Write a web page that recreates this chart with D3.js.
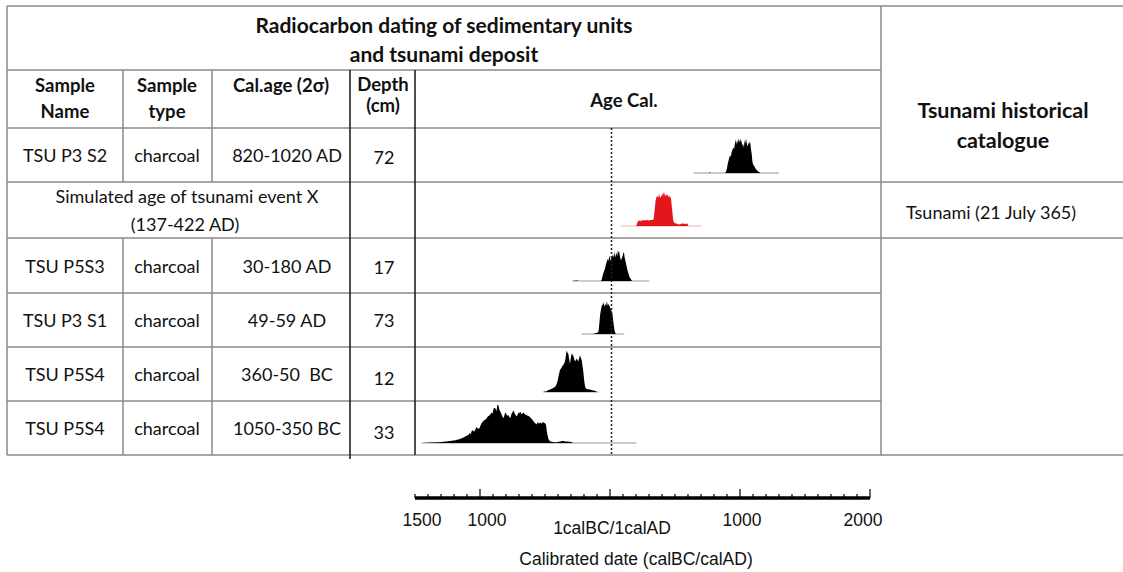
<!DOCTYPE html>
<html><head><meta charset="utf-8">
<script src="https://cdn.jsdelivr.net/npm/d3@7"></script>
<style>
body{margin:0;background:#fff;}
svg text{font-family:Lato,"Open Sans",sans-serif;fill:#111;white-space:pre;}
svg text.ax{font-family:"Liberation Sans",Arial,sans-serif;}
</style>
</head><body><svg id="c" width="1123" height="572"></svg>
<script>
// ---------- data ----------
const titleLines = ["Radiocarbon dating of sedimentary units", "and tsunami deposit"];
const headerLabels = [["Sample","Name"],["Sample","type"],["Cal.age (2\u03c3)"],["Depth","(cm)"],["Age Cal."]];
const catalogueTitle = ["Tsunami historical", "catalogue"];
const sampleNames = ["TSU P3 S2", null, "TSU P5S3", "TSU P3 S1", "TSU P5S4", "TSU P5S4"];
const sampleTypes = ["charcoal", null, "charcoal", "charcoal", "charcoal", "charcoal"];
const calAges = ["820-1020 AD", null, "30-180 AD", "49-59 AD", "360-50  BC", "1050-350 BC"];
const depths = ["72", "", "17", "73", "12", "33"];
const simulatedLabel = ["Simulated age of tsunami event X", "(137-422 AD)"];
const catalogueEntry = "Tsunami (21 July 365)";
const axisTickValues = [-1500, -1000, 0, 1000, 2000];
const axisTickLabels = ["1500", "1000", "1calBC/1calAD", "1000", "2000"];
const axisTitle = "Calibrated date (calBC/calAD)";
const tsunamiYear = 0; // reference dotted line (1calBC/1calAD)

// probability distributions: [calendar year (negative = BC), relative density]
const distP3S2 = [[641,0],[760,0],[765,2],[775,0],[885,0],[892,3],[900,12],[905,22],[915,35],[923,45],[930,40],[935,52],[942,58],[949,64],[955,60],[960,72],[968,84],[972,70],[975,80],[980,74],[985,88],[990,78],[995,82],[1000,76],[1005,86],[1010,80],[1015,74],[1020,68],[1026,72],[1030,62],[1035,82],[1040,74],[1046,86],[1050,78],[1055,70],[1060,66],[1064,76],[1070,72],[1077,80],[1082,66],[1085,58],[1090,48],[1095,30],[1100,22],[1108,18],[1115,14],[1122,10],[1130,7],[1140,4],[1148,2],[1160,0],[1300,0]];
const distEventX = [[82,0],[200,0],[205,3],[212,10],[220,13],[230,14],[240,12],[250,15],[265,14],[280,15],[295,14],[310,15],[325,15],[335,17],[340,30],[345,45],[350,62],[357,72],[365,75],[372,70],[377,82],[382,74],[388,70],[395,78],[400,72],[405,83],[410,78],[415,86],[420,78],[425,74],[430,80],[435,76],[441,80],[446,74],[450,75],[455,70],[459,77],[465,72],[470,66],[475,50],[480,35],[485,18],[490,10],[500,7],[510,6],[520,5],[530,4],[545,5],[556,7],[565,5],[575,6],[585,5],[595,7],[600,2],[605,0],[705,0]];
const distP5S3 = [[-290,0],[-255,1],[-240,0],[-70,0],[-64,3],[-58,12],[-51,20],[-45,25],[-38,32],[-31,42],[-25,48],[-18,55],[-12,50],[-5,64],[0,56],[5,50],[9,58],[13,56],[18,62],[23,66],[28,58],[33,74],[38,62],[42,60],[47,70],[51,68],[56,62],[60,76],[65,70],[69,76],[74,66],[80,56],[85,52],[90,56],[95,60],[100,66],[104,72],[108,70],[112,60],[115,55],[120,48],[123,44],[128,36],[132,30],[137,24],[141,20],[146,14],[150,10],[156,7],[162,4],[170,0],[302,0]];
const distP3S1 = [[-218,0],[-130,0],[-120,1],[-113,2],[-100,3],[-90,5],[-86,12],[-82,26],[-76,48],[-69,62],[-64,70],[-60,74],[-55,72],[-51,80],[-46,74],[-42,68],[-38,72],[-33,76],[-29,70],[-25,82],[-20,76],[-16,70],[-13,76],[-8,72],[-3,70],[1,66],[6,62],[10,58],[14,56],[18,50],[21,45],[25,32],[30,20],[34,10],[38,5],[45,0],[110,0]];
const distP5S4a = [[-513,0],[-500,1],[-487,2],[-474,5],[-455,7],[-436,10],[-420,14],[-410,20],[-403,28],[-397,38],[-391,46],[-385,55],[-378,58],[-371,62],[-364,66],[-358,68],[-352,72],[-346,76],[-340,90],[-333,104],[-327,98],[-321,96],[-315,84],[-308,70],[-302,84],[-295,96],[-289,94],[-282,90],[-276,84],[-269,76],[-262,80],[-256,84],[-250,80],[-244,76],[-238,84],[-231,92],[-225,86],[-218,80],[-212,66],[-205,50],[-199,30],[-192,14],[-185,9],[-175,7],[-167,7],[-155,6],[-140,5],[-128,4],[-115,3],[-102,0],[-87,0]];
const distP5S4b = [[-1449,0],[-1380,1],[-1321,2],[-1280,3],[-1231,5],[-1190,7],[-1154,10],[-1120,15],[-1103,18],[-1090,20],[-1080,25],[-1072,22],[-1064,30],[-1055,32],[-1045,28],[-1036,34],[-1026,40],[-1018,36],[-1005,36],[-996,44],[-987,50],[-978,54],[-970,56],[-960,58],[-949,62],[-940,66],[-930,68],[-920,72],[-910,76],[-903,74],[-895,86],[-885,88],[-878,84],[-873,80],[-868,92],[-864,97],[-859,94],[-855,90],[-850,82],[-846,80],[-840,76],[-833,70],[-827,66],[-821,62],[-815,66],[-808,74],[-802,76],[-795,70],[-788,68],[-782,70],[-776,66],[-769,62],[-763,66],[-757,74],[-750,76],[-744,82],[-738,78],[-731,72],[-725,70],[-718,66],[-712,70],[-705,76],[-699,74],[-692,78],[-686,76],[-680,72],[-673,74],[-667,76],[-660,74],[-654,72],[-648,70],[-641,70],[-635,68],[-628,68],[-622,66],[-615,65],[-608,62],[-602,60],[-596,58],[-590,55],[-583,52],[-577,50],[-570,48],[-564,46],[-558,52],[-551,50],[-545,48],[-538,52],[-532,50],[-525,48],[-519,52],[-513,52],[-506,50],[-500,50],[-492,45],[-487,32],[-482,22],[-474,10],[-466,6],[-460,4],[-449,3],[-430,2],[-410,2],[-395,3],[-380,4],[-370,5],[-359,5],[-345,4],[-330,4],[-308,3],[-295,2],[-282,0],[203,0]];
const distributions = [distP3S2, distEventX, distP5S3, distP3S1, distP5S4a, distP5S4b];
const distColors = ["#000", "#e3161d", "#000", "#000", "#000", "#000"];

// ---------- layout ----------
const W = 1123, H = 572;
const rowY = [6, 70, 128, 182, 238, 293, 347, 401, 455]; // horizontal rule positions
const colX = [7, 123, 212, 350, 415, 881];
const dataRowBot = i => rowY[3 + i];
const baselineOffset = [9, 12, 12, 13, 9, 12];
const gridColor = "#8a8a8a";

const svg = d3.select("#c");
const x = d3.scaleLinear().domain([-1500, 2000]).range([415, 870]);
const yd = d3.scaleLinear().domain([0, 100]).range([0, 40]);

// ---------- grid ----------
const g = svg.append("g");
function hline(y, x1, x2, col, w) { g.append("line").attr("x1", x1).attr("x2", x2).attr("y1", y).attr("y2", y).attr("stroke", col || gridColor).attr("stroke-width", w || 1.5); }
function vline(xx, y1, y2, col, w) { g.append("line").attr("x1", xx).attr("x2", xx).attr("y1", y1).attr("y2", y2).attr("stroke", col || gridColor).attr("stroke-width", w || 1.5); }
[0, 3, 4, 8].forEach(k => hline(rowY[k], colX[0], W));
[1, 2, 5, 6, 7].forEach(k => hline(rowY[k], colX[0], colX[5]));
vline(colX[0], rowY[0], rowY[8]);
vline(colX[1], rowY[1], rowY[3]); vline(colX[1], rowY[4], rowY[8]);
vline(colX[2], rowY[1], rowY[3]); vline(colX[2], rowY[4], rowY[8]);
vline(colX[3], rowY[1], rowY[8] + 4, "#222", 1.6);
vline(colX[4], rowY[1], rowY[8], "#222", 1.6);
vline(colX[5], rowY[0], rowY[8]);

// ---------- texts ----------
function txt(s, xx, yy, opt = {}) {
  return svg.append("text").attr("x", xx).attr("y", yy).attr("text-anchor", opt.anchor || "middle")
    .attr("dominant-baseline", "central").style("font-size", (opt.size || 18) + "px")
    .style("font-weight", opt.bold ? "bold" : "normal").text(s);
}
txt(titleLines[0], 444, 24, {bold: true, size: 21});
txt(titleLines[1], 444, 53, {bold: true, size: 21});
const headerCx = [65, 167, 281, 383, 624];
const headerYs = [[85, 111], [85, 111], [85], [84, 105], [100]];
headerLabels.forEach((lines, i) => lines.forEach((s, j) => txt(s, headerCx[i], headerYs[i][j], {bold: true, size: 18.5})));
txt(catalogueTitle[0], 1003, 110, {bold: true, size: 21.5});
txt(catalogueTitle[1], 1003, 140, {bold: true, size: 21.5});

const rowTextY = [155, null, 266, 320, 374, 428];
const depthDy = [2, 0, 1, 0, 4, 4];
sampleNames.forEach((s, i) => {
  if (s === null) return;
  txt(s, 65, rowTextY[i]);
  txt(sampleTypes[i], 167, rowTextY[i]);
  txt(calAges[i], 287, rowTextY[i]);
  txt(depths[i], 384, rowTextY[i] + depthDy[i]);
});
txt(simulatedLabel[0], 187, 196);
txt(simulatedLabel[1], 185, 224);
txt(catalogueEntry, 906, 212, {anchor: "start"});

// ---------- distributions ----------
const area = d3.area().x(d => x(d[0])).y1(d => -yd(d[1])).y0(0).curve(d3.curveLinear);
distributions.forEach((dist, i) => {
  const base = dataRowBot(i) - baselineOffset[i];
  const gg = svg.append("g").attr("transform", `translate(0,${base})`);
  gg.append("line").attr("x1", x(dist[0][0])).attr("x2", x(dist[dist.length - 1][0]))
    .attr("y1", 0).attr("y2", 0).attr("stroke", i === 1 ? "#f0b0b0" : "#999").attr("stroke-width", 1);
  gg.append("path").datum(dist).attr("d", area).attr("fill", distColors[i]);
});

// dotted reference line
svg.append("line").attr("x1", x(tsunamiYear) + 1.5).attr("x2", x(tsunamiYear) + 1.5)
  .attr("y1", rowY[2]).attr("y2", rowY[8]).attr("stroke", "#222").attr("stroke-width", 1.5)
  .attr("stroke-dasharray", "2,2");

// ---------- axis ----------
const axisY = 498;
const ax = svg.append("g").attr("transform", `translate(0,${axisY})`);
ax.append("line").attr("x1", x(-1500)).attr("x2", x(2000)).attr("stroke", "#000").attr("stroke-width", 3.5);
const minor = d3.range(-1500, 2001, 100);
ax.selectAll("line.mn").data(minor).enter().append("line").attr("class", "mn")
  .attr("x1", d => x(d)).attr("x2", d => x(d)).attr("y1", 0)
  .attr("y2", d => (d % 1000 === 0 || d === 2000) ? -9 : -4)
  .attr("stroke", "#000").attr("stroke-width", 1.2);
const labelDx = [7, 7, 2, 2, -7];
const labelDy = [22, 22, 30, 22, 22];
axisTickValues.forEach((v, i) => {
  ax.append("text").attr("class", "ax").attr("x", x(v) + labelDx[i]).attr("y", labelDy[i])
    .attr("text-anchor", "middle").attr("dominant-baseline", "central")
    .style("font-size", "17.5px").text(axisTickLabels[i]);
});
svg.append("text").attr("class", "ax").attr("x", 636).attr("y", 559).attr("text-anchor", "middle")
  .attr("dominant-baseline", "central").style("font-size", "17.5px").text(axisTitle);
</script></body></html>
